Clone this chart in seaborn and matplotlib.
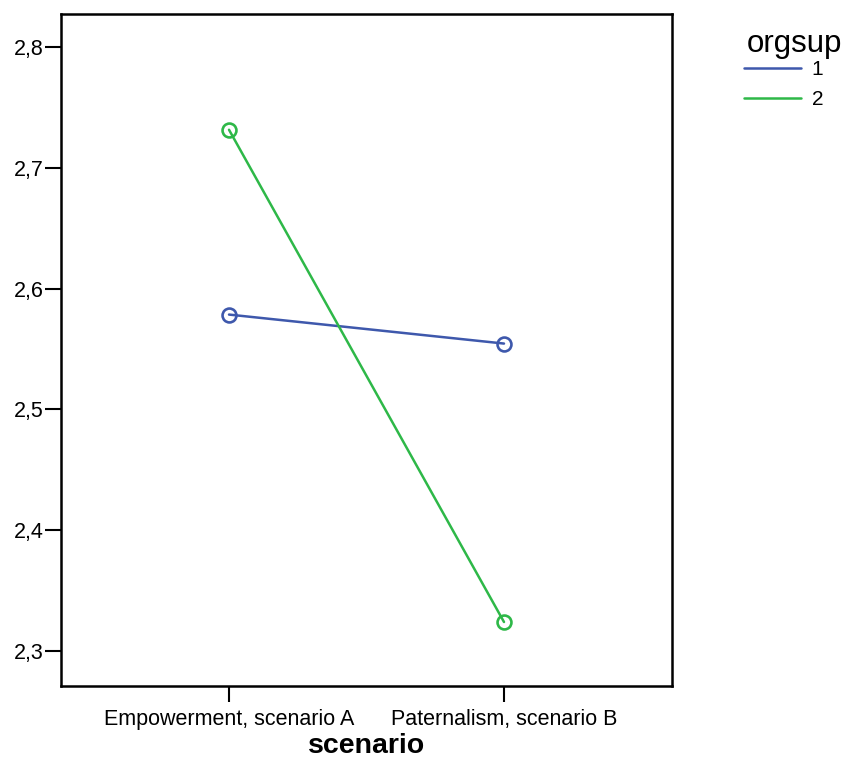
import matplotlib
matplotlib.use("Agg")
import matplotlib.pyplot as plt
import seaborn as sns
import pandas as pd
from matplotlib.lines import Line2D
from matplotlib.ticker import FuncFormatter, MultipleLocator

scenarios = ["Empowerment, scenario A", "Paternalism, scenario B"]
orgsup_1 = [2.5785, 2.5545]
orgsup_2 = [2.7315, 2.324]
groups = ["1", "2"]
colors = {"1": "#3E58AC", "2": "#2EB848"}

df = pd.DataFrame({
    "scenario": scenarios * 2,
    "value": orgsup_1 + orgsup_2,
    "orgsup": [groups[0]] * 2 + [groups[1]] * 2,
})

sns.set_style("white")
plt.rcParams["font.family"] = ["Liberation Sans", "DejaVu Sans"]

fig = plt.figure(figsize=(8.45, 7.62), dpi=100)
ax = fig.add_axes([61/845, 1-686/762, (672-61)/845, (686-14)/762])

sns.lineplot(data=df, x="scenario", y="value", hue="orgsup", palette=colors,
             marker="o", markersize=10, linewidth=1.8, ax=ax, legend=False, sort=False)
for ln in ax.lines:
    c = ln.get_color()
    ln.set_markerfacecolor("none")
    ln.set_markeredgecolor(c)
    ln.set_markeredgewidth(1.9)

ax.set_xlim(-168/275, 1 + 168/275)
ax.set_ylim(2.3 - 35/1208, 2.8 + 33/1208)
ax.yaxis.set_major_locator(MultipleLocator(0.1))
ax.yaxis.set_major_formatter(FuncFormatter(lambda v, p: f"{v:.1f}".replace(".", ",")))
for s in ax.spines.values():
    s.set_visible(True)
    s.set_color("black")
    s.set_linewidth(1.8)
ax.tick_params(axis="both", direction="out", length=11.5, width=1.5, color="black",
               labelsize=15.5, left=True, bottom=True, labelcolor="black")
ax.tick_params(axis="x", pad=5)
ax.tick_params(axis="y", pad=1)
ax.set_xlabel("scenario", fontsize=20.5, fontweight="bold", labelpad=2, color="black")
ax.set_ylabel("")

fig.text(747/845, 1-52/762, "orgsup", fontsize=22.5, color="black",
         ha="left", va="baseline")
handles = [Line2D([0], [0], color=colors[g], lw=1.8) for g in groups]
leg = fig.legend(handles, groups, loc="upper left",
                 bbox_to_anchor=(744/845, 1-60/762), frameon=False,
                 fontsize=15, handlelength=2.75,
                 handletextpad=0.5, labelspacing=0.55, borderaxespad=0,
                 borderpad=0.0)
for t in leg.get_texts():
    t.set_color("black")

fig.savefig("out.png", dpi=100)
